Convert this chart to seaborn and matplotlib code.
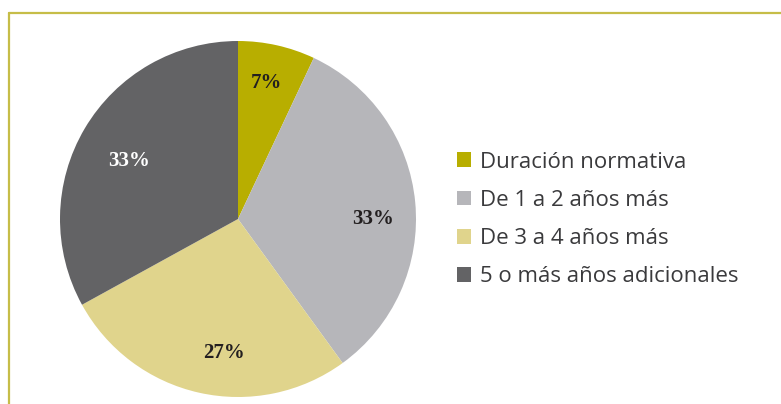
import matplotlib
matplotlib.use('Agg')
import numpy as np
import matplotlib.pyplot as plt
import seaborn as sns
from matplotlib.patches import Rectangle
from matplotlib.lines import Line2D

sns.set_style('white')

# Data
categories = ['Duración normativa', 'De 1 a 2 años más', 'De 3 a 4 años más', '5 o más años adicionales']
values = [7, 33, 27, 33]
colors = ['#B8AE00', '#B6B6BA', '#E0D48C', '#636365']
label_colors = ['#231F20', '#231F20', '#231F20', '#FFFFFF']
# label placement (polar, in pie radius units)
label_angle = [78, 0.0, -96, 152]
label_dist = [0.78, 0.76, 0.755, 0.69]

W, H = 781, 404
fig = plt.figure(figsize=(W / 100, H / 100), dpi=100)

# Pie axes: center (238, 219) px, radius 178 px
cx, cy, r = 238, 219, 178
ax = fig.add_axes([(cx - r) / W, (H - cy - r) / H, 2 * r / W, 2 * r / H])
wedges, texts, autotexts = ax.pie(
    values, colors=colors, startangle=90, counterclock=False,
    autopct='%d%%', pctdistance=0.76, radius=1,
    wedgeprops=dict(linewidth=0),
    textprops=dict(family='Liberation Serif', fontweight='bold', fontsize=15),
)
for t, a, d, c in zip(autotexts, label_angle, label_dist, label_colors):
    ang = np.deg2rad(a)
    t.set_position((d * np.cos(ang), d * np.sin(ang)))
    t.set_color(c)
ax.set_xlim(-1, 1)
ax.set_ylim(-1, 1)
ax.set_aspect('equal')
ax.axis('off')

# Legend
handles = [Rectangle((0, 0), 1, 1, facecolor=c, edgecolor='none') for c in colors]
leg = fig.legend(
    handles, categories, loc='center left', bbox_to_anchor=(457 / W, (H - 219.5) / H),
    frameon=False, handlelength=0.62, handleheight=0.62,
    handletextpad=0.4, labelspacing=0.78, borderpad=0, borderaxespad=0,
    prop=dict(family='Open Sans', size=16),
)
for t in leg.get_texts():
    t.set_color('#3A3A3C')

# Frame lines (top and left)
frame_color = '#C6BD48'
fig.add_artist(Line2D([9 / W, 1], [(H - 13) / H, (H - 13) / H], color=frame_color, lw=1.6,
                      transform=fig.transFigure))
fig.add_artist(Line2D([9 / W, 9 / W], [0, (H - 13) / H], color=frame_color, lw=1.6,
                      transform=fig.transFigure))

fig.savefig('out.png', dpi=100, facecolor='white')
